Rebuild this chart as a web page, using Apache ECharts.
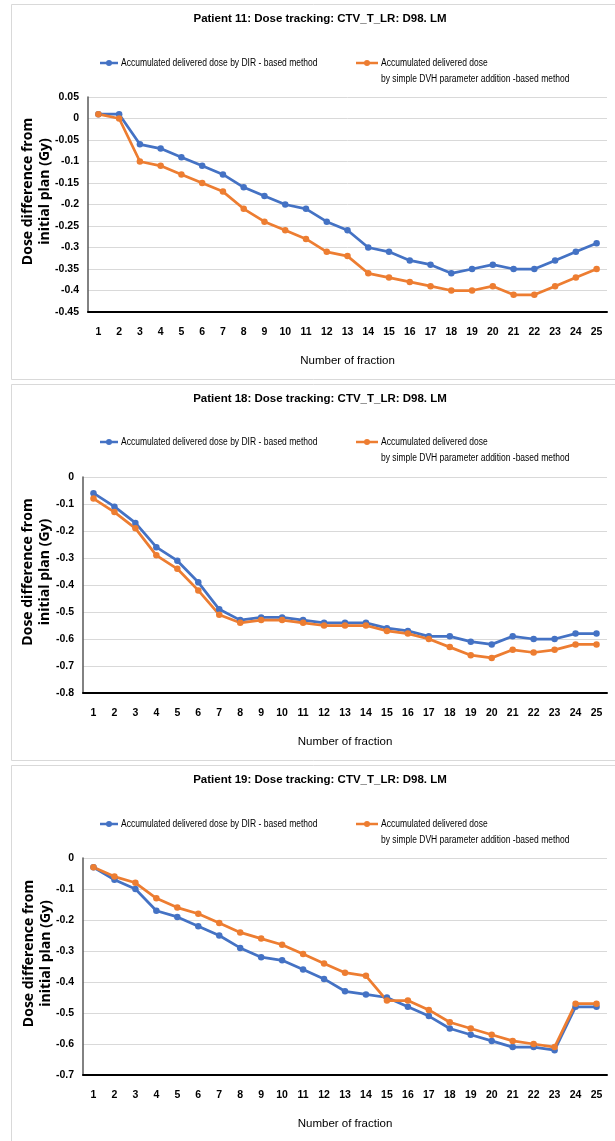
<!DOCTYPE html>
<html>
<head>
<meta charset="utf-8">
<title>Dose tracking: CTV_T_LR: D98. LM</title>
<script src="https://cdn.jsdelivr.net/npm/echarts@6/dist/echarts.min.js"></script>
<style>
  html, body { margin: 0; padding: 0; background: #fff; }
  #chart { width: 615px; height: 1141px; }
</style>
</head>
<body>
<div id="chart"></div>
<script>
// Fractions 1..25
const fractions = ['1','2','3','4','5','6','7','8','9','10','11','12','13','14','15','16','17','18','19','20','21','22','23','24','25'];

const seriesNameDIR = 'Accumulated delivered dose by DIR - based method';
const seriesNameDVH = 'Accumulated delivered dose\nby simple DVH parameter addition -based method';

// Patient 11
const p11Title = 'Patient 11: Dose tracking: CTV_T_LR: D98. LM';
const p11DIR = [0.01, 0.01, -0.06, -0.07, -0.09, -0.11, -0.13, -0.16, -0.18, -0.20, -0.21, -0.24, -0.26, -0.30, -0.31, -0.33, -0.34, -0.36, -0.35, -0.34, -0.35, -0.35, -0.33, -0.31, -0.29];
const p11DVH = [0.01, 0.00, -0.10, -0.11, -0.13, -0.15, -0.17, -0.21, -0.24, -0.26, -0.28, -0.31, -0.32, -0.36, -0.37, -0.38, -0.39, -0.40, -0.40, -0.39, -0.41, -0.41, -0.39, -0.37, -0.35];
const p11Axis = { min: -0.45, max: 0.05, interval: 0.05 };

// Patient 18
const p18Title = 'Patient 18: Dose tracking: CTV_T_LR: D98. LM';
const p18DIR = [-0.06, -0.11, -0.17, -0.26, -0.31, -0.39, -0.49, -0.53, -0.52, -0.52, -0.53, -0.54, -0.54, -0.54, -0.56, -0.57, -0.59, -0.59, -0.61, -0.62, -0.59, -0.60, -0.60, -0.58, -0.58];
const p18DVH = [-0.08, -0.13, -0.19, -0.29, -0.34, -0.42, -0.51, -0.54, -0.53, -0.53, -0.54, -0.55, -0.55, -0.55, -0.57, -0.58, -0.60, -0.63, -0.66, -0.67, -0.64, -0.65, -0.64, -0.62, -0.62];
const p18Axis = { min: -0.8, max: 0, interval: 0.1 };

// Patient 19
const p19Title = 'Patient 19: Dose tracking: CTV_T_LR: D98. LM';
const p19DIR = [-0.03, -0.07, -0.10, -0.17, -0.19, -0.22, -0.25, -0.29, -0.32, -0.33, -0.36, -0.39, -0.43, -0.44, -0.45, -0.48, -0.51, -0.55, -0.57, -0.59, -0.61, -0.61, -0.62, -0.48, -0.48];
const p19DVH = [-0.03, -0.06, -0.08, -0.13, -0.16, -0.18, -0.21, -0.24, -0.26, -0.28, -0.31, -0.34, -0.37, -0.38, -0.46, -0.46, -0.49, -0.53, -0.55, -0.57, -0.59, -0.60, -0.61, -0.47, -0.47];
const p19Axis = { min: -0.7, max: 0, interval: 0.1 };

const xAxisName = 'Number of fraction';
const yAxisName = 'Dose difference from\ninitial plan (Gy)';

const BLUE = '#4472C4';
const ORANGE = '#ED7D31';
const NARROW = "'Liberation Sans Narrow', 'Liberation Sans', sans-serif";
const WIDE = "'Open Sans', 'DejaVu Sans', sans-serif";

// Layout of the three stacked panels
const panels = [
  { title: p11Title, dir: p11DIR, dvh: p11DVH, axis: p11Axis, box: [11, 4, 379], titleY: 8, legendY: 63, grid: { left: 88, top: 97, height: 215 }, nameGap: 34 },
  { title: p18Title, dir: p18DIR, dvh: p18DVH, axis: p18Axis, box: [11, 384, 760], titleY: 388, legendY: 442, grid: { left: 83, top: 477, height: 216 }, nameGap: 29 },
  { title: p19Title, dir: p19DIR, dvh: p19DVH, axis: p19Axis, box: [11, 765, 1150], titleY: 769, legendY: 824, grid: { left: 83, top: 858, height: 217 }, nameGap: 28 }
];

const fmt = v => String(+v.toFixed(2));

const option = {
  backgroundColor: '#fff',
  animation: false,
  title: [], grid: [], xAxis: [], yAxis: [], series: [], graphic: []
};

panels.forEach((p, i) => {
  // panel frame
  option.graphic.push({
    type: 'rect', silent: true, z: -1,
    shape: { x: p.box[0] + 0.5, y: p.box[1] + 0.5, width: 640, height: p.box[2] - p.box[1] },
    style: { fill: '#fff', stroke: '#d9d9d9', lineWidth: 1 }
  });

  option.title.push({
    text: p.title, left: 315, textAlign: 'center', top: p.titleY,
    textStyle: { fontFamily: NARROW, fontWeight: 'bold', fontSize: 11.5, color: '#000' }
  });

  option.grid.push({ left: p.grid.left, top: p.grid.top, height: p.grid.height, right: 8 });

  option.xAxis.push({
    type: 'category', gridIndex: i, data: fractions, boundaryGap: true,
    name: xAxisName, nameLocation: 'middle', nameGap: 43, nameMoveOverlap: false,
    nameTextStyle: { fontFamily: NARROW, fontSize: 11.5, color: '#000' },
    axisLine: { onZero: false, lineStyle: { color: '#000', width: 2 } },
    axisTick: { show: false },
    axisLabel: { fontFamily: NARROW, fontWeight: 'bold', fontSize: 10.5, color: '#000', margin: 15, interval: 0 }
  });

  option.yAxis.push({
    type: 'value', gridIndex: i, min: p.axis.min, max: p.axis.max, interval: p.axis.interval,
    name: yAxisName, nameLocation: 'middle', nameGap: p.nameGap, nameRotate: 90, nameMoveOverlap: false,
    nameTextStyle: { fontFamily: WIDE, fontWeight: 'bold', fontSize: 14, color: '#000', lineHeight: 17, padding: [0, 0, 0, 26] },
    axisLine: { show: true, lineStyle: { color: '#595959', width: 1.5 } },
    axisTick: { show: false },
    splitLine: { lineStyle: { color: '#d9d9d9', width: 1 } },
    axisLabel: { fontFamily: NARROW, fontWeight: 'bold', fontSize: 10.5, color: '#000', margin: 9, formatter: fmt }
  });

  [[seriesNameDIR, p.dir, BLUE], [seriesNameDVH, p.dvh, ORANGE]].forEach(([name, data, color]) => {
    option.series.push({
      type: 'line', name, xAxisIndex: i, yAxisIndex: i, data,
      symbol: 'circle', symbolSize: 6.5,
      lineStyle: { color, width: 2.75 },
      itemStyle: { color }
    });
  });

  // legend entries
  const ly = p.legendY;
  const entries = [
    { x0: 100, x1: 118, color: BLUE, lines: [seriesNameDIR] },
    { x0: 356, x1: 378, color: ORANGE, lines: seriesNameDVH.split('\n') }
  ];
  entries.forEach(e => {
    option.graphic.push({ type: 'line', silent: true, shape: { x1: e.x0, y1: ly, x2: e.x1, y2: ly }, style: { stroke: e.color, lineWidth: 2.5 } });
    option.graphic.push({ type: 'circle', silent: true, shape: { cx: (e.x0 + e.x1) / 2, cy: ly, r: 3 }, style: { fill: e.color } });
    e.lines.forEach((t, k) => {
      option.graphic.push({
        type: 'text', silent: true, x: e.x1 + 3, y: ly + k * 16, scaleX: 0.85,
        style: { text: t, fill: '#000', font: '10px ' + NARROW, verticalAlign: 'middle', align: 'left' }
      });
    });
  });
});

const chart = echarts.init(document.getElementById('chart'), null, { renderer: 'canvas' });
chart.setOption(option);
</script>
</body>
</html>
